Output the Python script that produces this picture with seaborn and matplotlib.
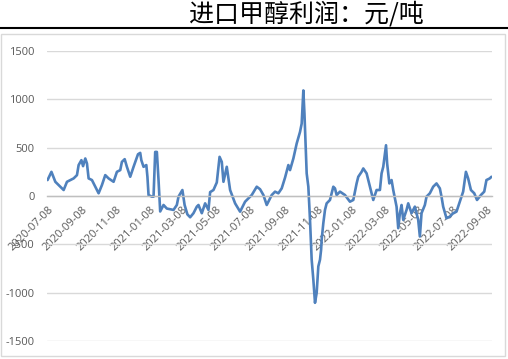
import matplotlib
matplotlib.use("Agg")
import matplotlib.pyplot as plt
from matplotlib.patches import Rectangle
import pandas as pd
import seaborn as sns

title = "进口甲醇利润：元/吨"

dates = [
    "2020-07-08", "2020-07-15", "2020-07-22", "2020-08-06", "2020-08-12", "2020-08-24",
    "2020-08-30", "2020-09-02", "2020-09-07", "2020-09-10", "2020-09-14", "2020-09-17",
    "2020-09-20", "2020-09-26", "2020-10-08", "2020-10-14", "2020-10-20", "2020-10-26",
    "2020-11-04", "2020-11-10", "2020-11-16", "2020-11-19", "2020-11-24", "2020-11-28",
    "2020-12-04", "2020-12-10", "2020-12-18", "2020-12-22", "2020-12-24", "2020-12-28",
    "2021-01-02", "2021-01-04", "2021-01-06", "2021-01-12", "2021-01-15", "2021-01-18",
    "2021-01-21", "2021-01-24", "2021-01-27", "2021-02-02", "2021-02-08", "2021-02-20",
    "2021-02-26", "2021-03-01", "2021-03-08", "2021-03-12", "2021-03-17", "2021-03-22",
    "2021-03-28", "2021-04-03", "2021-04-06", "2021-04-12", "2021-04-18", "2021-04-24",
    "2021-04-27", "2021-05-03", "2021-05-09", "2021-05-14", "2021-05-18", "2021-05-21",
    "2021-05-27", "2021-06-02", "2021-06-11", "2021-06-20", "2021-06-29", "2021-07-05",
    "2021-07-11", "2021-07-20", "2021-07-26", "2021-08-01", "2021-08-07", "2021-08-16",
    "2021-08-22", "2021-08-28", "2021-09-03", "2021-09-09", "2021-09-15", "2021-09-18",
    "2021-09-24", "2021-09-30", "2021-10-06", "2021-10-09", "2021-10-12", "2021-10-14",
    "2021-10-18", "2021-10-21", "2021-10-24", "2021-10-27", "2021-10-30", "2021-11-02",
    "2021-11-05", "2021-11-08", "2021-11-11", "2021-11-13", "2021-11-14", "2021-11-17",
    "2021-11-20", "2021-11-23", "2021-11-29", "2021-12-05", "2021-12-08", "2021-12-11",
    "2021-12-17", "2021-12-26", "2022-01-04", "2022-01-10", "2022-01-16", "2022-01-19",
    "2022-01-25", "2022-01-28", "2022-02-03", "2022-02-09", "2022-02-15", "2022-02-21",
    "2022-02-27", "2022-03-02", "2022-03-05", "2022-03-10", "2022-03-12", "2022-03-16",
    "2022-03-20", "2022-03-23", "2022-03-29", "2022-04-01", "2022-04-04", "2022-04-07",
    "2022-04-10", "2022-04-16", "2022-04-19", "2022-04-25", "2022-05-01", "2022-05-07",
    "2022-05-10", "2022-05-13", "2022-05-19", "2022-05-22", "2022-05-28", "2022-06-03",
    "2022-06-09", "2022-06-15", "2022-06-18", "2022-06-21", "2022-06-27", "2022-07-03",
    "2022-07-09", "2022-07-15", "2022-07-21", "2022-07-27", "2022-08-01", "2022-08-05",
    "2022-08-10", "2022-08-16", "2022-08-21", "2022-08-28", "2022-09-03", "2022-09-07",
    "2022-09-13", "2022-09-16",
]

profit = [
    165, 250, 147, 62, 147, 182,
    216, 320, 371, 309, 388, 337,
    182, 165, 28, 113, 216, 182,
    147, 250, 268, 353, 381, 302,
    199, 302, 432, 446, 371, 302,
    320, 199, 10, -7, -7, 456,
    456, 165, -160, -93, -130, -144,
    -93, -7, 62, -93, -190, -220,
    -178, -110, -93, -178, -76, -144,
    40, 62, 140, 405, 353, 147,
    302, 62, -76, -162, -59, -24,
    10, 96, 70, 10, -93, 10,
    45, 28, 79, 190, 320, 268,
    388, 543, 663, 749, 1092, 852,
    234, 96, -247, -659, -865, -1105,
    -1002, -728, -659, -556, -453, -281,
    -144, -76, -41, 96, 79, 10,
    45, 10, -59, -41, 130, 199,
    250, 285, 234, 96, -41, 62,
    62, 234, 302, 525, 337, 130,
    165, 62, -110, -333, -178, -93,
    -247, -144, -76, -178, -110, -247,
    -419, -178, -93, -7, 28, 96,
    130, 79, -7, -110, -230, -213,
    -178, -162, -59, 45, 250, 182,
    62, 28, -41, 10, 45, 165,
    182, 199,
]

tick_dates = ["2020-07-08", "2020-09-08", "2020-11-08", "2021-01-08", "2021-03-08",
              "2021-05-08", "2021-07-08", "2021-09-08", "2021-11-08", "2022-01-08",
              "2022-03-08", "2022-05-08", "2022-07-08", "2022-09-08"]
y_ticks = [-1500, -1000, -500, 0, 500, 1000, 1500]

df = pd.DataFrame({"date": pd.to_datetime(dates), "profit": profit})

sns.set_theme(style="white")
plt.rcParams["font.family"] = ["Noto Sans CJK SC", "DejaVu Sans"]

W, H = 508, 359
fig = plt.figure(figsize=(W / 100, H / 100), dpi=100)

# outer chart frame
fig.patches.append(Rectangle((1 / W, 1 - 356 / H), 504 / W, (356 - 34) / H,
                             transform=fig.transFigure, fill=False,
                             edgecolor="#d9d9d9", linewidth=1.0))
# black rule under title
fig.add_artist(plt.Line2D([0, 1], [1 - 28 / H, 1 - 28 / H], transform=fig.transFigure,
                          color="black", linewidth=1.5))
fig.text(306 / W, 1 - 15 / H, title, ha="center", va="center", fontsize=18, color="black")

ax = fig.add_axes([47 / W, 1 - 341 / H, (492 - 47) / W, (341 - 51) / H])
sns.lineplot(data=df, x="date", y="profit", ax=ax, color="#4f81bd", linewidth=1.9)

ax.set_xlim(pd.Timestamp("2020-07-07"), pd.Timestamp("2022-09-17"))
ax.set_ylim(-1500, 1500)
ax.set_yticks(y_ticks)
ax.set_yticklabels([str(v) for v in y_ticks])
ax.yaxis.grid(True, color="#d9d9d9", linewidth=1.0)
ax.xaxis.grid(False)
ax.set_xlabel("")
ax.set_ylabel("")

for s in ["top", "right", "left"]:
    ax.spines[s].set_visible(False)
ax.spines["bottom"].set_position(("data", 0))
ax.spines["bottom"].set_color("#bfbfbf")
ax.spines["bottom"].set_linewidth(1.0)

ax.set_xticks(pd.to_datetime(tick_dates))
ax.set_xticklabels(tick_dates, rotation=45, ha="right", rotation_mode="anchor",
                   fontsize=8, color="#595959", family=["Open Sans", "DejaVu Sans"])
ax.tick_params(axis="x", direction="out", length=4, width=0.8, color="#bfbfbf", pad=2)
ax.tick_params(axis="y", length=0, pad=9, labelsize=8, labelcolor="#595959")
for lbl in ax.get_yticklabels():
    lbl.set_family(["Open Sans", "DejaVu Sans"])
ax.set_facecolor("none")
ax.set_axisbelow(True)

fig.savefig("out.png", dpi=100)
